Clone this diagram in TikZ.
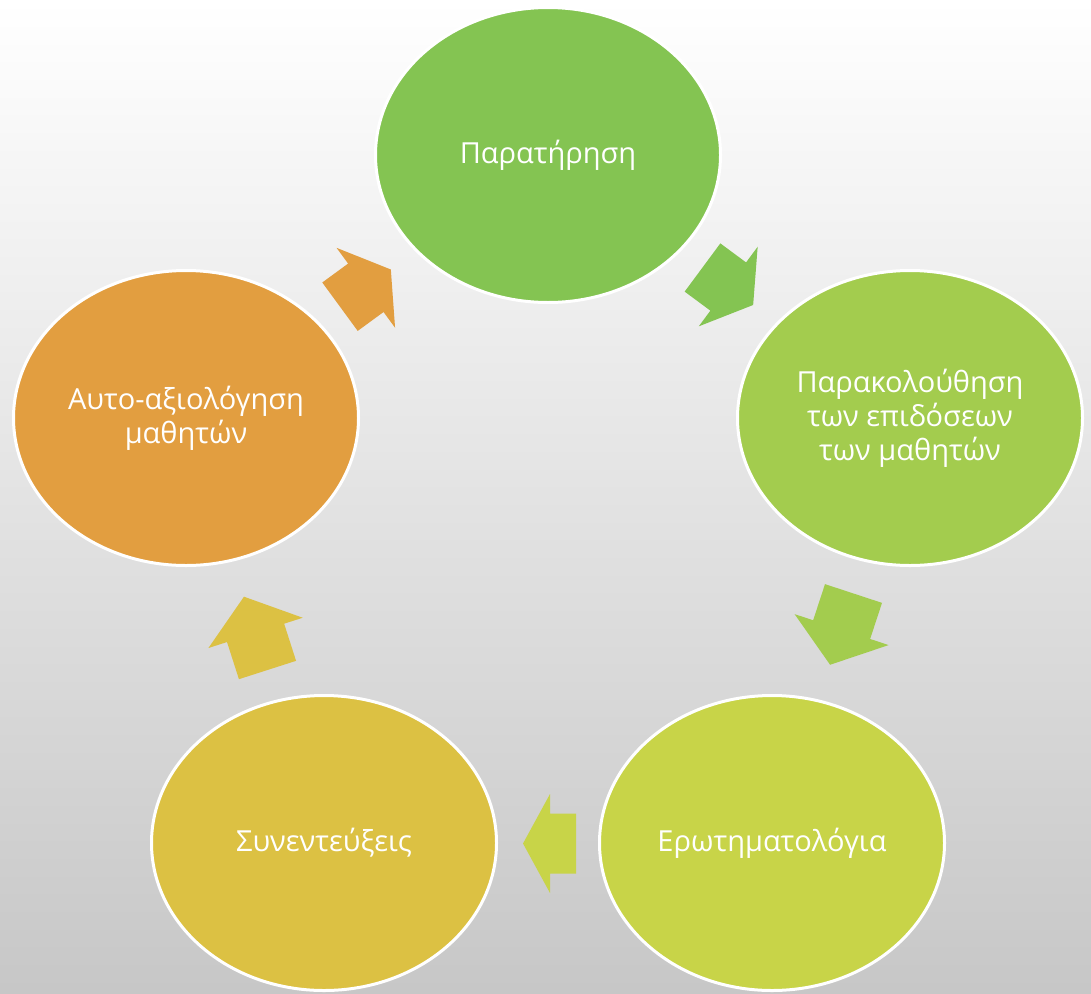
\documentclass[tikz,border=0pt]{standalone}
\usepackage{fontspec}
\setmainfont{Open Sans}
\usepackage{tikz}
\usetikzlibrary{shapes.geometric}

\definecolor{cgreen}{HTML}{84C452}
\definecolor{clime}{HTML}{A3CC4E}
\definecolor{cyellowgreen}{HTML}{C8D448}
\definecolor{cgold}{HTML}{DCC143}
\definecolor{corange}{HTML}{E29E40}

\tikzset{
    stage/.style={ellipse, draw=white, line width=3pt, minimum width=345pt, minimum height=295pt,
        text=white, align=center, font=\fontsize{29}{34}\selectfont, inner sep=0pt},
}

% block arrow: colour, tail x, tail y, angle, length, head length
\newcommand{\blockarrow}[6]{
    \begin{scope}[shift={(#2,#3)}, rotate=#4]
        \fill[#1] (0,-30) -- (#5-#6,-30) -- (#5-#6,-49.5) -- (#5,0) -- (#5-#6,49.5) -- (#5-#6,30) -- (0,30) -- cycle;
    \end{scope}
}

\begin{document}
\begin{tikzpicture}[x=1pt, y=-1pt]
        \shade[top color=white, bottom color=black!22] (0,0) rectangle (1091,993);
        \useasboundingbox (0,0) rectangle (1091,993);

        \node[stage, fill=cgreen] (obs) at (548,155) {Παρατήρηση};
        \node[stage, fill=clime] (track) at (910,418) {Παρακολούθηση\\των επιδόσεων\\των μαθητών};
        \node[stage, fill=cyellowgreen] (quest) at (772,843) {Ερωτηματολόγια};
        \node[stage, fill=cgold] (interv) at (324,843) {Συνεντεύξεις};
        \node[stage, fill=corange] (self) at (186,418) {Αυτο-αξιολόγηση\\μαθητών};

        \blockarrow{cgreen}{702.5}{267.5}{-36.5}{63}{31}
        \blockarrow{clime}{853.5}{593.5}{-108.2}{75}{37}
        \blockarrow{cyellowgreen}{576}{843.5}{180}{53}{27}
        \blockarrow{cgold}{267.5}{670}{107.8}{77}{38}
        \blockarrow{corange}{340}{306.7}{36.2}{63}{31}
    \end{tikzpicture}
\end{document}
